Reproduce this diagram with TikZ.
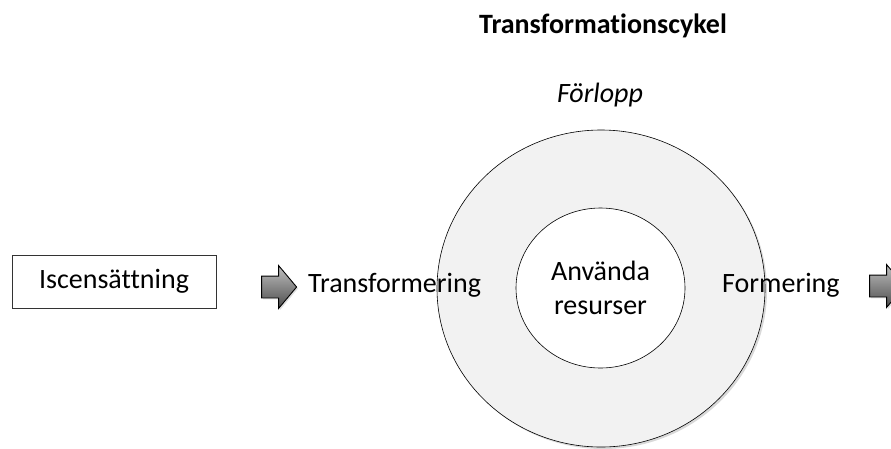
\documentclass[tikz,border=0pt]{standalone}
\usepackage{fontspec}
\setmainfont{Carlito}[Ligatures=NoCommon]
\usetikzlibrary{shapes.geometric,shapes.arrows,shadows}
\definecolor{ringfill}{HTML}{F2F2F2}

\begin{document}
\begin{tikzpicture}[x=1pt,y=-1pt,
  every node/.style={font=\fontsize{28}{34}\selectfont},
  blockarrow/.style={single arrow,draw=black,line width=0.9pt,
    minimum height=35pt,inner sep=10.5pt,
    single arrow head extend=10.5pt,single arrow tip angle=100,
    top color=black!25,bottom color=black!70,
    drop shadow={shadow xshift=1.5pt,shadow yshift=-1.5pt,opacity=.25}},
  ring/.style={ellipse,draw=black,line width=0.6pt,inner sep=0pt}]
\useasboundingbox (0,0) rectangle (891,448);

\node (titel) at (603,26) {\bfseries Transformationscykel};
\node (forlopp) at (600,95) {\itshape Förlopp};

\node[ring,fill=ringfill,minimum width=328pt,minimum height=317pt,
  drop shadow={shadow xshift=2pt,shadow yshift=-2pt,opacity=.3}] (cykel) at (601,288.5) {};
\node[ring,fill=white,minimum width=169pt,minimum height=160pt,
  align=center] (resurser) at (600.5,288) {Använda\\resurser};

\node[draw=black!80,line width=0.6pt,minimum width=204pt,minimum height=53pt,
  inner sep=0pt] (iscen) at (114,281.5) {Iscensättning};
\node[blockarrow] (pil1) at (274.5,287) {};
\node[anchor=west,inner sep=0pt] (transf) at (308,285) {Transformering};
\node[anchor=west,inner sep=0pt] (form) at (722,285) {Formering};
\node[blockarrow] (pil2) at (882.5,286) {};
\end{tikzpicture}
\end{document}
